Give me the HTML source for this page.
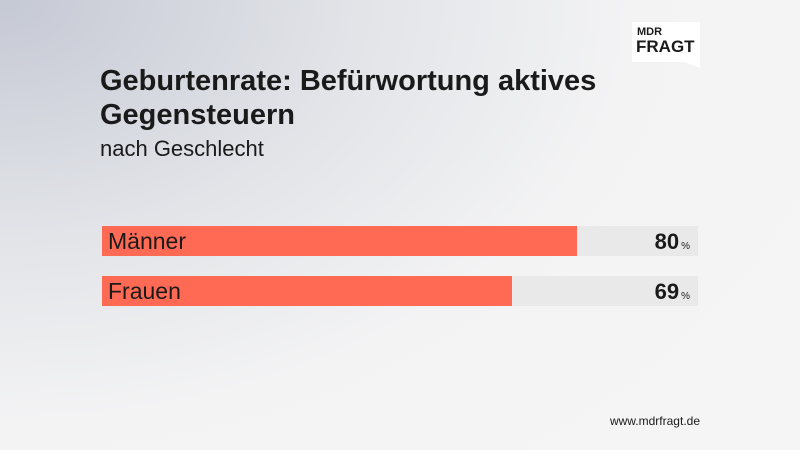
<!DOCTYPE html>
<html><head><style>
body{margin:0;}
#c{position:relative;width:800px;height:450px;overflow:hidden;font-family:"Liberation Sans",sans-serif;
background:radial-gradient(ellipse 900px 600px at 0px 0px,#c5c9d4 0%,#e2e4e8 40%,#f3f3f4 70%,#f5f5f5 100%);}
.t{position:absolute;left:100px;color:#1a1a1a;}
.track{position:absolute;left:102px;width:596px;height:30px;background:#e9e9e9;}
.bar{position:absolute;left:0;top:0;height:30px;background:#ff6a55;}
.lab{position:absolute;left:6px;top:2px;font-size:23px;color:#1a1a1a;}
.val{position:absolute;right:8px;top:3px;font-size:22px;font-weight:bold;color:#1a1a1a;}
.val span{font-size:10px;font-weight:normal;margin-left:2px;}
</style></head><body><div id="c">
<div style="position:absolute;left:632px;top:22px;width:68px;height:40px;background:#fff;"></div>
<div style="position:absolute;left:684px;top:62px;width:0;height:0;border-left:16px solid transparent;border-top:6px solid #fff;"></div>
<div style="position:absolute;left:637px;top:26px;font-size:11px;font-weight:bold;color:#1a1a1a;">MDR</div>
<div style="position:absolute;left:636px;top:37px;font-size:17px;font-weight:bold;color:#1a1a1a;">FRAGT</div>
<div class="t" style="top:64px;font-size:29px;font-weight:bold;line-height:34px;">Geburtenrate: Befürwortung aktives<br>Gegensteuern</div>
<div class="t" style="top:136px;font-size:22px;">nach Geschlecht</div>
<div class="track" style="top:226px;"><div class="bar" style="width:475px;"></div><div class="lab">Männer</div><div class="val">80<span>%</span></div></div>
<div class="track" style="top:276px;"><div class="bar" style="width:410px;"></div><div class="lab">Frauen</div><div class="val">69<span>%</span></div></div>
<div style="position:absolute;right:100px;top:414px;font-size:12px;color:#1a1a1a;">www.mdrfragt.de</div>
</div></body></html>
